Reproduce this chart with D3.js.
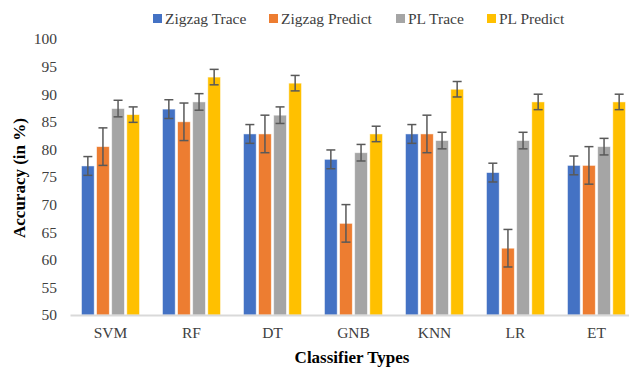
<!DOCTYPE html>
<html>
<head>
<meta charset="utf-8">
<script src="https://cdn.jsdelivr.net/npm/d3@7"></script>
<style>
  body { margin: 0; background: #fff; }
  svg text { font-family: "Liberation Serif", "Times New Roman", serif; fill: #404040; }
</style>
</head>
<body>
<div id="graf"></div>
<script>
// Datos
const clasificadores = ["SVM", "RF", "DT", "GNB", "KNN", "LR", "ET"]
const series = ["Zigzag Trace", "Zigzag Predict", "PL Trace", "PL Predict"]
const zigzagTrace = [77.0, 87.3, 82.8, 78.2, 82.8, 75.8, 77.1]
const zigzagPredict = [80.5, 85.0, 82.8, 66.6, 82.8, 62.1, 77.1]
const plTrace = [87.4, 88.6, 86.2, 79.4, 81.6, 81.6, 80.5]
const plPredict = [86.3, 93.1, 92.0, 82.8, 90.9, 88.6, 88.6]
const errores = [1.7, 3.4, 1.5, 1.4]
const yTicks = [50, 55, 60, 65, 70, 75, 80, 85, 90, 95, 100]
const colores = ["#4472c4", "#ed7d31", "#a5a5a5", "#ffc000"]

const valores = [zigzagTrace, zigzagPredict, plTrace, plPredict]
const dataset = []
clasificadores.forEach((c, i) => {
  series.forEach((s, j) => {
    dataset.push({ clasificador: c, serie: s, valor: valores[j][i], error: errores[j] })
  })
})

const fuente = "'Liberation Serif', 'Times New Roman', serif"

// Dimensiones
const anchoTotal = 629
const altoTotal = 367
const margins = { top: 39, right: -8, bottom: 52, left: 70 }
const ancho = anchoTotal - margins.left - margins.right
const alto = altoTotal - margins.top - margins.bottom

// Escaladores
const x = d3.scaleBand().domain(clasificadores).range([0, ancho]).paddingInner(0).paddingOuter(0)
const xs = d3.scaleBand().domain(series).range([0, 58]).paddingInner(0.16)
const y = d3.scaleLinear().domain([50, 100]).range([alto, 0])
const color = d3.scaleOrdinal().domain(series).range(colores)

const svg = d3.select("#graf")
  .append("svg")
  .attr("width", anchoTotal)
  .attr("height", altoTotal)

const chart = svg.append("g")
  .attr("transform", `translate(${margins.left}, ${margins.top})`)

// Eje Y (solo etiquetas)
const yAxis = d3.axisLeft(y).tickValues(yTicks).tickSize(0).tickPadding(13)
const yAxisGroup = chart.append("g").call(yAxis).attr("font-family", fuente)
yAxisGroup.select(".domain").remove()
yAxisGroup.selectAll("text").style("font-size", "15.5px").attr("fill", "#404040")

// Barras
const offset = (x.bandwidth() - 58) / 2
chart.selectAll("rect.barra")
  .data(dataset)
  .join("rect")
  .classed("barra", true)
  .attr("x", (d) => x(d.clasificador) + offset + xs(d.serie))
  .attr("y", (d) => y(d.valor))
  .attr("width", xs.bandwidth())
  .attr("height", (d) => alto - y(d.valor))
  .attr("fill", (d) => color(d.serie))
  .attr("stroke", "#fff")
  .attr("stroke-opacity", 0.6)
  .attr("stroke-width", 0.8)

// Barras de error
const errG = chart.selectAll("g.err")
  .data(dataset)
  .join("g")
  .classed("err", true)
  .attr("transform", (d) => `translate(${x(d.clasificador) + offset + xs(d.serie) + xs.bandwidth() / 2}, 0)`)
  .attr("stroke", "#595959")
  .attr("stroke-width", 1.5)

errG.append("line")
  .attr("y1", (d) => y(d.valor + d.error))
  .attr("y2", (d) => y(d.valor - d.error))
errG.append("line")
  .attr("x1", -4.5).attr("x2", 4.5)
  .attr("y1", (d) => y(d.valor + d.error))
  .attr("y2", (d) => y(d.valor + d.error))
errG.append("line")
  .attr("x1", -4.5).attr("x2", 4.5)
  .attr("y1", (d) => y(d.valor - d.error))
  .attr("y2", (d) => y(d.valor - d.error))

// Eje X
const xAxis = d3.axisBottom(x).tickSize(0).tickPadding(12)
const xAxisGroup = chart.append("g")
  .attr("transform", `translate(0, ${alto})`)
  .call(xAxis)
  .attr("font-family", fuente)
xAxisGroup.select(".domain").attr("stroke", "#d9d9d9").attr("stroke-width", 2)
xAxisGroup.selectAll("text").style("font-size", "15.5px").attr("fill", "#404040")

// Títulos de ejes
svg.append("text")
  .attr("x", 352)
  .attr("y", 363)
  .attr("text-anchor", "middle")
  .attr("font-family", fuente)
  .style("font-size", "17px")
  .style("font-weight", "bold")
  .style("fill", "#000")
  .text("Classifier Types")

svg.append("text")
  .attr("transform", "translate(25, 178) rotate(-90)")
  .attr("text-anchor", "middle")
  .attr("font-family", fuente)
  .style("font-size", "17px")
  .style("font-weight", "bold")
  .style("fill", "#000")
  .text("Accuracy (in %)")

// Leyenda
const legendX = [153, 269, 396, 487]
const leyenda = svg.selectAll("g.leyenda")
  .data(series)
  .join("g")
  .classed("leyenda", true)
  .attr("transform", (d, i) => `translate(${legendX[i]}, 19)`)

leyenda.append("rect")
  .attr("x", 0).attr("y", -5)
  .attr("width", 9).attr("height", 9)
  .attr("fill", (d) => color(d))

leyenda.append("text")
  .attr("x", 12)
  .attr("y", 5)
  .attr("font-family", fuente)
  .style("font-size", "15.5px")
  .style("fill", "#404040")
  .text((d) => d)
</script>
</body>
</html>
